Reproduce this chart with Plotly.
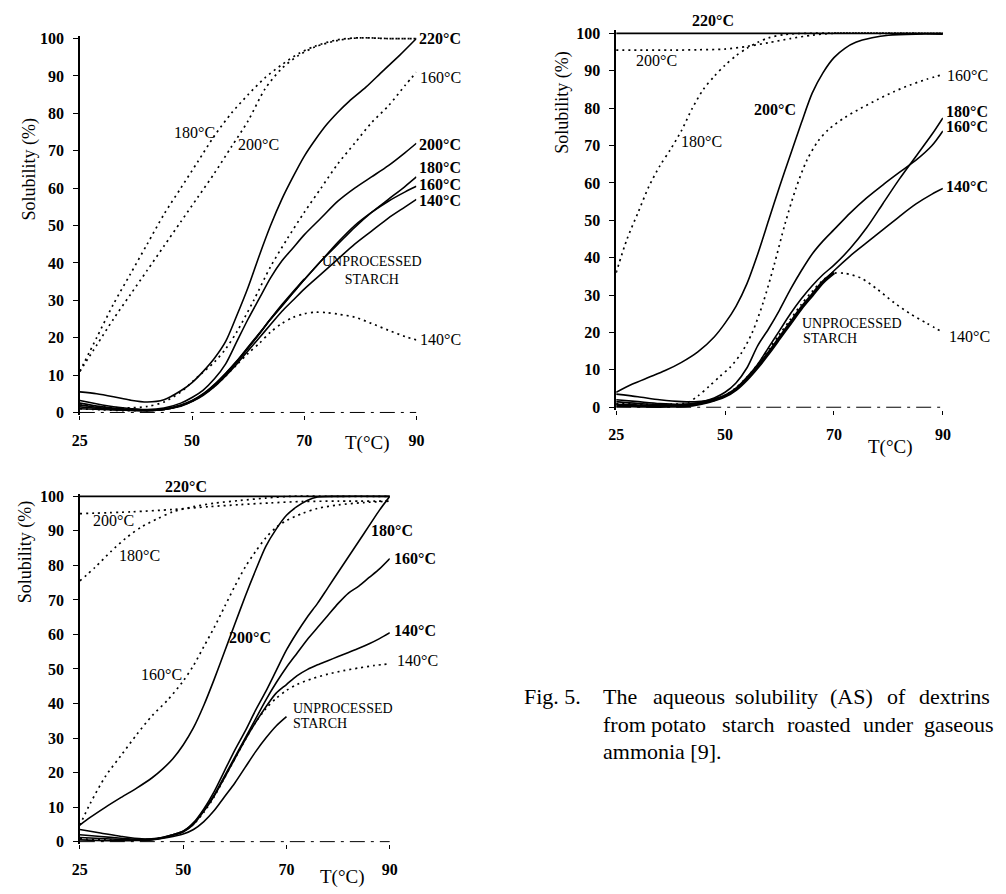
import plotly.graph_objects as go

W, H = 1006, 894

# ---------------- data (T axis position, solubility %) ----------------
# Panel A
A_T_220 = [30, 33, 36, 39, 42, 45, 48, 50, 52, 54, 56, 58, 60, 62, 64, 66, 68, 70, 72, 74, 76, 78, 81, 84, 87, 90]
A_S_220 = [5.5, 5.0, 4.2, 3.3, 2.8, 3.4, 5.8, 8.0, 11, 14.5, 19, 26, 33.5, 42, 50, 57, 63, 68.5, 73, 77, 80.3, 83.2, 87, 91.3, 95.5, 100]
A_T_200 = [30, 34, 38, 42, 45, 48, 50, 52, 54, 56, 58, 60, 62, 64, 66, 68, 70, 73, 76, 79, 82, 85, 88, 90]
A_S_200 = [3.2, 2.0, 1.2, 0.8, 1.2, 2.5, 4, 6, 9, 13, 19, 25, 30.5, 36, 40.5, 44, 47.5, 52, 56.5, 60, 63, 66, 69.5, 72]
A_T_180 = [30, 34, 38, 42, 45, 48, 50, 52, 54, 56, 58, 60, 62, 64, 66, 68, 70, 73, 76, 79, 82, 85, 88, 90]
A_S_180 = [2.5, 1.5, 0.9, 0.6, 0.9, 2, 3.2, 5, 7.5, 10.5, 13.8, 17.5, 21.2, 25, 28.5, 32, 35.5, 40.5, 45, 49.5, 53.5, 57, 60.5, 63]
A_T_160 = [30, 34, 38, 42, 45, 48, 50, 52, 54, 56, 58, 60, 62, 64, 66, 68, 70, 73, 76, 79, 82, 85, 88, 90]
A_S_160 = [2.0, 1.2, 0.8, 0.5, 0.8, 1.9, 3.1, 4.9, 7.4, 10.4, 13.7, 17.4, 21.1, 24.9, 28.4, 32, 35.5, 40.5, 45.5, 50, 53.5, 56.5, 59, 60.5]
A_T_140 = [30, 34, 38, 42, 45, 48, 50, 52, 54, 56, 58, 60, 62, 64, 66, 68, 70, 73, 76, 79, 82, 85, 88, 90]
A_S_140 = [1.5, 1.0, 0.6, 0.5, 0.8, 1.7, 2.9, 4.6, 6.9, 9.8, 13, 16.5, 20, 23.5, 27, 30, 33, 37, 41, 45, 48.5, 52, 55, 57]
A_T_UNP = [30, 34, 38, 42, 45, 48, 50, 52, 54, 56, 58, 60, 62, 64, 66, 68, 70]
A_S_UNP = [1.0, 0.8, 0.6, 0.5, 0.8, 1.8, 3, 4.8, 7.2, 10.2, 13.5, 17.2, 21, 25, 28.8, 32.3, 35.7]
A_T_D180 = [30, 33, 36, 39, 42, 45, 48, 51, 54, 57, 60, 63, 66, 69, 72, 76, 80, 85, 90]
A_S_D180 = [11, 20, 29, 37, 45, 53, 60, 67, 74, 80, 85, 89.5, 93, 96, 98, 99.7, 100.2, 100, 100]
A_T_D200 = [30, 33, 36, 39, 42, 45, 48, 51, 54, 57, 60, 63, 66, 69, 72, 76, 80, 85, 90]
A_S_D200 = [11, 18, 25, 31.5, 38, 44.5, 51, 57.5, 64, 71, 78, 86.5, 92, 95.5, 97.8, 99.5, 100.2, 100, 100]
A_T_D160 = [30, 34, 38, 42, 45, 48, 51, 54, 56, 58, 61, 64, 67, 70, 73, 76, 79, 82, 85, 88, 90]
A_S_D160 = [2, 1.5, 1.2, 1.6, 2.8, 5.5, 9.5, 13.5, 17, 21.6, 30, 39, 46.5, 53.5, 60, 66.5, 72, 77.5, 82, 87.5, 91]
A_T_D140 = [30, 34, 38, 42, 45, 48, 50, 52, 54, 56, 58, 60, 62, 64, 66, 68, 70, 72, 74, 76, 79, 82, 85, 88, 90]
A_S_D140 = [1.0, 0.7, 0.5, 0.5, 0.8, 1.8, 3, 4.8, 7, 9.8, 12.8, 15.8, 18.5, 21.5, 23.8, 25.4, 26.4, 26.8, 26.7, 26.3, 25.5, 23.8, 22, 20.3, 19.4]

# Panel B
B_T_220 = [30, 60, 90]
B_S_220 = [100, 100, 100]
B_T_200 = [30, 33, 36, 39, 42, 45, 48, 50, 52, 54, 56, 58, 60, 62, 64, 66, 68, 70, 72, 74, 77, 80, 85, 90]
B_S_200 = [4, 6.2, 8, 9.8, 12, 14.8, 18.8, 22.5, 27, 33, 41, 50, 59, 67.5, 76, 84, 89.5, 93.5, 96, 97.6, 98.8, 99.5, 99.8, 99.8]
B_T_180 = [30, 34, 38, 42, 45, 48, 50, 52, 54, 56, 58, 60, 62, 64, 66, 68, 70, 73, 76, 79, 82, 85, 88, 90]
B_S_180 = [3.5, 2.8, 2, 1.5, 1.5, 2.2, 3, 5, 8, 11.5, 16, 20.5, 25, 29, 32.5, 35.5, 38, 42.5, 48, 54.5, 61, 67, 73, 77.4]
B_T_160 = [30, 34, 38, 42, 45, 48, 50, 52, 54, 56, 58, 60, 62, 64, 66, 68, 70, 73, 76, 79, 82, 85, 88, 90]
B_S_160 = [2.0, 1.5, 1.0, 0.8, 1.2, 2.5, 4, 6.5, 10.5, 16.5, 21, 26, 31.5, 36.5, 41, 44.5, 47.5, 52, 56, 59.5, 62.8, 66, 70, 73.9]
B_T_140 = [30, 34, 38, 42, 45, 48, 50, 52, 54, 56, 58, 60, 62, 64, 66, 68, 70, 73, 76, 79, 82, 85, 88, 90]
B_S_140 = [1.5, 1, 0.7, 0.5, 0.8, 1.8, 3, 4.8, 7.5, 10.8, 14.5, 18.5, 22.5, 26.5, 30, 33.5, 36.5, 40.5, 44, 47.5, 51, 54.3, 57, 58.5]
B_T_UNP = [30, 35, 40, 44, 47, 50, 52, 54, 56, 58, 60, 62, 64, 66, 68, 70]
B_S_UNP = [0.5, 0.3, 0.3, 0.6, 1.5, 3, 4.8, 7.5, 10.8, 14.5, 18.5, 22.5, 26.5, 30, 33.5, 36]
B_T_D200 = [30, 35, 40, 45, 50, 54, 58, 62, 66, 70, 80, 90]
B_S_D200 = [95.5, 95.5, 95.5, 95.6, 95.8, 96.5, 97.5, 98.6, 99.5, 100, 100, 100]
B_T_D180 = [30, 32, 34, 36, 38, 40, 42, 44, 46, 48, 50, 52, 54, 56, 58, 61, 65, 90]
B_S_D180 = [36, 45, 52, 59, 64.5, 69, 74, 80, 85, 88.5, 91.5, 94, 96, 97.6, 98.8, 99.7, 100, 100]
B_T_D160 = [30, 35, 40, 43, 45, 47, 49, 51, 53, 55, 57, 59, 61, 63, 65, 67, 69, 72, 75, 78, 81, 84, 87, 90]
B_S_D160 = [1.0, 0.8, 0.8, 1.2, 3, 5.5, 8.2, 10.8, 14.5, 20, 28, 38, 49, 58.5, 66, 71, 74.3, 77.5, 80, 82.3, 84.4, 86.2, 87.7, 89]
B_T_D140 = [30, 35, 40, 44, 47, 50, 52, 54, 56, 58, 60, 62, 64, 66, 68, 70, 72, 75, 78, 81, 84, 87, 90]
B_S_D140 = [0.8, 0.6, 0.5, 0.8, 1.8, 3.2, 5.2, 8, 11.5, 15.5, 19.5, 23.5, 27.5, 31, 34, 35.8, 35.8, 34.5, 31.5, 28, 25, 22.5, 20]

# Panel C
C_T_220 = [30, 60, 90]
C_S_220 = [100, 100, 100]
C_T_200 = [30, 32, 35, 38, 41, 44, 46, 48, 50, 52, 54, 56, 58, 60, 62, 64, 66, 68, 70, 72, 74, 76, 80, 90]
C_S_200 = [4.8, 7, 10, 12.8, 15.5, 18.5, 21, 24, 28, 33, 39.5, 47, 55, 63, 71, 78.5, 85.5, 90.5, 94.5, 97, 98.8, 99.8, 100, 100]
C_T_180 = [30, 34, 38, 42, 45, 48, 50, 52, 54, 56, 58, 60, 62, 64, 66, 68, 70, 72, 74, 76, 78, 80, 82, 84, 86, 88, 90]
C_S_180 = [3.5, 2.5, 1.5, 0.8, 1, 2, 3, 5.5, 9.5, 14.5, 20.5, 26.5, 32, 38, 43.5, 49.5, 55.5, 60.5, 65, 69, 73.5, 78, 82.5, 87, 91.5, 96, 100]
C_T_160 = [30, 34, 38, 42, 45, 48, 50, 52, 54, 56, 58, 60, 62, 64, 66, 68, 70, 72, 74, 76, 78, 80, 82, 84, 86, 88, 90]
C_S_160 = [2, 1.5, 1, 0.6, 0.9, 2, 3, 5.2, 9, 13.5, 19, 24.5, 30, 35.5, 41, 46, 50.5, 54.5, 58.5, 62, 65.5, 69, 72, 74, 76.5, 79, 82]
C_T_140 = [30, 34, 38, 42, 45, 48, 50, 52, 54, 56, 58, 60, 62, 64, 66, 68, 70, 72, 74, 76, 78, 80, 82, 84, 86, 88, 90]
C_S_140 = [1.2, 0.9, 0.6, 0.5, 0.8, 1.8, 2.8, 5, 8.8, 13.2, 18.5, 24, 29.5, 34.5, 39, 43, 45.5, 48, 49.8, 51.2, 52.4, 53.6, 54.8, 56, 57.3, 58.8, 60.5]
C_T_UNP = [30, 35, 40, 44, 47, 50, 52, 54, 56, 58, 60, 62, 64, 66, 68, 70]
C_S_UNP = [0.5, 0.3, 0.3, 0.5, 1.2, 2.2, 3.5, 5.8, 9, 13, 17, 21.5, 26, 30, 33.5, 36.2]
C_T_D200 = [30, 40, 48, 55, 61, 67, 73, 80, 90]
C_S_D200 = [95, 95.5, 96.2, 97, 97.6, 98.1, 98.5, 98.6, 98.6]
C_T_D180 = [30, 33, 36, 39, 42, 45, 48, 52, 56, 61, 66, 71, 80, 90]
C_S_D180 = [75.5, 79.5, 84, 88, 91.2, 93.5, 95.5, 97, 98, 98.8, 99.5, 100, 100, 100]
C_T_D160 = [30, 32, 35, 38, 41, 44, 47, 50, 52, 54, 56, 58, 60, 62, 64, 66, 68, 70, 73, 76, 80, 85, 90]
C_S_D160 = [4.8, 11, 19, 25, 31, 36.5, 41, 46.5, 51, 56.5, 62, 68, 74, 79.5, 84, 88, 91, 93, 95, 96.5, 97.5, 98.2, 98.6]
C_T_D140 = [30, 35, 40, 44, 47, 50, 52, 54, 56, 58, 60, 62, 64, 66, 68, 70, 72, 75, 78, 81, 84, 87, 90]
C_S_D140 = [0.8, 0.5, 0.5, 0.7, 1.5, 3, 5, 8.5, 13, 18.5, 24, 29.5, 34.5, 38.5, 41.5, 43.8, 45.5, 47.2, 48.5, 49.5, 50.3, 51, 51.5]

X_TICKVALS = [30, 50, 70, 90]
X_TICKTEXT = ["25", "50", "70", "90"]
Y_TICKVALS = [0, 10, 20, 30, 40, 50, 60, 70, 80, 90, 100]

# ---------------- layout geometry (pixels) ----------------
PANELS = {
    1: dict(x0=73, x1=415, y0=412, y100=33),
    2: dict(x0=618, x1=950, y0=406.7, y100=27.7),
    3: dict(x0=73, x1=388, y0=847, y100=497),
}
PAD = 0.8  # y-range padding in data units

SERIES = [
    (1, A_T_220, A_S_220, "solid"), (1, A_T_200, A_S_200, "solid"), (1, A_T_180, A_S_180, "solid"),
    (1, A_T_160, A_S_160, "solid"), (1, A_T_140, A_S_140, "solid"), (1, A_T_UNP, A_S_UNP, "solid"),
    (1, A_T_D180, A_S_D180, "dot"), (1, A_T_D200, A_S_D200, "dot"), (1, A_T_D160, A_S_D160, "dot"),
    (1, A_T_D140, A_S_D140, "dot"),
    (2, B_T_220, B_S_220, "solid"), (2, B_T_200, B_S_200, "solid"), (2, B_T_180, B_S_180, "solid"),
    (2, B_T_160, B_S_160, "solid"), (2, B_T_140, B_S_140, "solid"), (2, B_T_UNP, B_S_UNP, "thick"),
    (2, B_T_D200, B_S_D200, "dot"), (2, B_T_D180, B_S_D180, "dot"), (2, B_T_D160, B_S_D160, "dot"),
    (2, B_T_D140, B_S_D140, "dot"),
    (3, C_T_220, C_S_220, "solid"), (3, C_T_200, C_S_200, "solid"), (3, C_T_180, C_S_180, "solid"),
    (3, C_T_160, C_S_160, "solid"), (3, C_T_140, C_S_140, "solid"), (3, C_T_UNP, C_S_UNP, "solid"),
    (3, C_T_D200, C_S_D200, "dot"), (3, C_T_D180, C_S_D180, "dot"), (3, C_T_D160, C_S_D160, "dot"),
    (3, C_T_D140, C_S_D140, "dot"),
]

FONT = "Liberation Serif"
fig = go.Figure()

for panel, xs, ys, style in SERIES:
    suffix = "" if panel == 1 else str(panel)
    if style == "solid":
        line = dict(color="black", width=1.6, shape="spline", smoothing=0.8)
    elif style == "thick":
        line = dict(color="black", width=3.5, shape="spline", smoothing=0.8)
    else:
        line = dict(color="black", width=1.7, dash="2px,4px", shape="spline", smoothing=0.8)
    fig.add_trace(go.Scatter(x=xs, y=ys, mode="lines", line=line, showlegend=False,
                             hoverinfo="skip", xaxis="x" + suffix, yaxis="y" + suffix))

layout = dict(width=W, height=H, margin=dict(l=0, r=0, t=0, b=0), autosize=False,
              paper_bgcolor="white", plot_bgcolor="white",
              font=dict(family=FONT, color="black"))

shapes = []
for p, g in PANELS.items():
    suffix = "" if p == 1 else str(p)
    k = (g["y0"] - g["y100"]) / 100.0
    ybot = g["y0"] + PAD * k
    ytop = g["y100"] - PAD * k
    layout["xaxis" + suffix] = dict(
        domain=[g["x0"] / W, g["x1"] / W], range=[30, 90], anchor="y" + suffix,
        tickvals=X_TICKVALS, ticktext=X_TICKTEXT, ticks="outside", ticklen=4, tickwidth=1,
        tickcolor="black", showline=False, showgrid=False, zeroline=False,
        ticklabelstandoff=6, tickfont=dict(family=FONT, size=16, color="black", weight="bold"),
    )
    layout["yaxis" + suffix] = dict(
        domain=[1 - ybot / H, 1 - ytop / H], range=[-PAD, 100 + PAD], anchor="x" + suffix,
        tickvals=Y_TICKVALS, ticks="outside", ticklen=5, tickwidth=1, tickcolor="black",
        showline=True, linecolor="black", linewidth=1.5, showgrid=False, zeroline=False,
        ticklabelstandoff=6, tickfont=dict(family=FONT, size=16, color="black", weight="bold"),
    )
    shapes.append(dict(type="line", xref="x" + suffix, yref="y" + suffix, x0=30, x1=90, y0=0, y1=0,
                       line=dict(color="black", width=1, dash="longdashdot")))
layout["shapes"] = shapes

ann = []


def lab(text, px, py, size=16, bold=False, anchor="left", angle=0):
    t = "<b>%s</b>" % text if bold else text
    ann.append(dict(text=t, x=px / W, y=1 - py / H, xref="paper", yref="paper",
                    xanchor=anchor, yanchor="middle", showarrow=False, textangle=angle,
                    font=dict(family=FONT, size=size, color="black")))


# axis titles
lab("Solubility (%)", 22, 165, size=18, anchor="center", angle=-90)
lab("Solubility (%)", 564, 98, size=18, anchor="center", angle=-90)
lab("Solubility (%)", 18, 553, size=18, anchor="center", angle=-90)
lab("T(°C)", 365, 443, size=19, anchor="center")
lab("T(°C)", 897, 447, size=19, anchor="center")
lab("T(°C)", 340, 883, size=19, anchor="center")

# panel 1 labels
lab("220°C", 416, 33, bold=True)
lab("160°C", 417, 72)
lab("200°C", 416, 140, bold=True)
lab("180°C", 416, 164, bold=True)
lab("160°C", 416, 181, bold=True)
lab("140°C", 416, 197, bold=True)
lab("140°C", 417, 338)
lab("180°C", 167, 128)
lab("200°C", 232, 140)
lab("UNPROCESSED<br>STARCH", 370, 268, size=14, anchor="center")

# panel 2 labels
lab("220°C", 716, 15, bold=True, anchor="center")
lab("200°C", 636, 55)
lab("180°C", 682, 137)
lab("200°C", 756, 105, bold=True)
lab("160°C", 952, 70)
lab("180°C", 951, 107, bold=True)
lab("160°C", 951, 122, bold=True)
lab("140°C", 951, 183, bold=True)
lab("140°C", 954, 335)
lab("UNPROCESSED", 805, 322, size=14)
lab("STARCH", 806, 337, size=14)

# panel 3 labels
lab("220°C", 157, 487, bold=True)
lab("200°C", 84, 522)
lab("180°C", 111, 557)
lab("160°C", 133, 678)
lab("200°C", 223, 640, bold=True)
lab("180°C", 367, 532, bold=True)
lab("160°C", 390, 560, bold=True)
lab("140°C", 390, 633, bold=True)
lab("140°C", 393, 663)
lab("UNPROCESSED", 288, 712, size=14)
lab("STARCH", 288, 727, size=14)

# caption (justified words)
lab("Fig. 5.", 522, 700, size=22)
for word, px in [("The", 603), ("aqueous", 653), ("solubility", 737), ("(AS)", 833), ("of", 891), ("dextrins", 924)]:
    lab(word, px, 700, size=22)
for word, px in [("from", 603), ("potato", 651), ("starch", 723), ("roasted", 790), ("under", 867), ("gaseous", 929)]:
    lab(word, px, 728, size=22)
lab("ammonia [9].", 603, 756, size=22)

layout["annotations"] = ann
fig.update_layout(**layout)
fig.write_html("out.html", config={"displayModeBar": False},
               post_script="document.body.style.margin='0px';")
